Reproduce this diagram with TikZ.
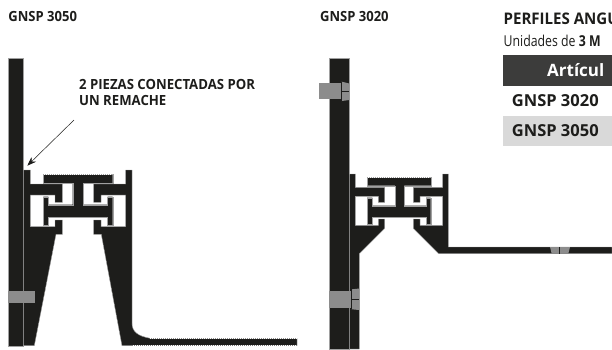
\documentclass[tikz,border=0pt]{standalone}
\usepackage{fontspec}
\usetikzlibrary{arrows.meta}
\setmainfont{Open Sans}
\definecolor{ink}{HTML}{1D1D1B}
\definecolor{rivetgray}{HTML}{8C8C8C}
\definecolor{edge}{HTML}{A0A0A0}
\definecolor{headdark}{HTML}{3C3C3B}
\definecolor{rowgray}{HTML}{D9D9D9}
\tikzset{
  prof/.style={fill=ink,draw=edge,line width=.4pt,line join=miter},
  rivet/.style={fill=rivetgray,draw=none},
  split/.style={draw=ink,line width=.6pt},
  teeth/.style={draw=white,line width=1pt,dash pattern=on .9pt off 1.1pt},
  title/.style={anchor=base west,inner sep=0pt,font=\bfseries\fontsize{14}{16}\selectfont,text=ink,xscale=.93},
  cell/.style={anchor=base west,inner sep=0pt,font=\bfseries\fontsize{16.5}{18}\selectfont,text=ink},
  note/.style={anchor=north west,inner sep=0pt,font=\bfseries\fontsize{14}{16}\selectfont,text=ink,align=left,xscale=.94},
}
\begin{document}
\begin{tikzpicture}[x=1pt,y=-1pt]
\clip (0,0) rectangle (612,349);
\fill[white] (0,0) rectangle (612,349);
% texts
\node[title] (t1) at (8.3,21.7) {GNSP 3050};
\node[title] (t2) at (320,21.7) {GNSP 3020};
\node[note] (n1) at (79,79) {2 PIEZAS CONECTADAS POR\\UN REMACHE};
\node[anchor=base west,inner sep=0pt,font=\bfseries\fontsize{16}{18}\selectfont,text=ink,xscale=.94] (h1) at (503.5,24.5) {PERFILES ANGU};
\node[anchor=base west,inner sep=0pt,font=\fontsize{15}{17}\selectfont,text=ink,xscale=.82] (h2) at (503.5,46.7) {Unidades de \textbf{3 M}};
% table
\fill[headdark] (503.3,55) rectangle (612,85.7);
\fill[rowgray] (503.3,115.7) rectangle (612,145.7);
\node[anchor=base west,inner sep=0pt,font=\bfseries\fontsize{17}{19}\selectfont,text=white] (c0) at (547,76.7) {Artícul};
\node[cell] (c1) at (511.7,106.5) {GNSP 3020};
\node[cell] (c2) at (511.7,136.5) {GNSP 3050};
% left assembly
\path[prof] (8.3,58) rectangle (23.5,345.7);
\path[prof] (23.5,170) -- (30.3,170) -- (30.3,184) -- (62.3,184) -- (62.3,202.3) -- (55,202.3) -- (55,195) -- (30.3,195) -- (30.3,226.7) -- (55,226.7) -- (55,220) -- (62.3,220) -- (62.3,234.3) -- (56,234.3) -- (34.3,345.7) -- (23.5,345.7) -- cycle;
\path[prof] (132,170) -- (125.7,170) -- (125.7,184) -- (93.7,184) -- (93.7,202.3) -- (101,202.3) -- (101,195) -- (125.7,195) -- (125.7,226.7) -- (101,226.7) -- (101,220) -- (93.7,220) -- (93.7,234.3) -- (101.3,234.3) -- (122,345.7) -- (297,345.7) -- (297,338.3) -- (150,338.3) .. controls (138,336) and (132,332) .. (132,323) -- cycle;
\path[prof] (43.3,174) -- (112.7,174) -- (112.7,183.3) -- (83.3,183.3) -- (83.3,204.7) -- (107.5,204.7) -- (107.5,196.7) -- (112.7,196.7) -- (112.7,225) -- (107.5,225) -- (107.5,217.3) -- (48.3,217.3) -- (48.3,225) -- (43.3,225) -- (43.3,196.7) -- (48.3,196.7) -- (48.3,204.7) -- (72.7,204.7) -- (72.7,183.3) -- (43.3,183.3) -- cycle;
\draw[teeth] (44,174.3) -- (112,174.3);
\draw[teeth] (150,338.4) -- (297,338.4);
\draw[teeth] (133,345.5) -- (297,345.5);
\fill[rivet] (8.3,291) rectangle (35,302.7);
% right assembly
\path[prof] (329.3,58) rectangle (349.3,349);
\path[prof] (349.3,349) -- (349.3,174) -- (355.3,174) -- (355.3,187.3) -- (384.7,187.3) -- (384.7,202.3) -- (378.3,202.3) -- (378.3,196.3) -- (355.3,196.3) -- (355.3,225.3) -- (378.3,225.3) -- (378.3,219) -- (384.7,219) -- (384.7,228.3) -- (359.3,253.7) -- (359.3,349) -- cycle;
\path[prof] (448.3,174) -- (442.7,174) -- (442.7,187.3) -- (413.3,187.3) -- (413.3,202.3) -- (420,202.3) -- (420,196.3) -- (442.7,196.3) -- (442.7,225.3) -- (420,225.3) -- (420,219) -- (413.3,219) -- (413.3,228.3) -- (438.7,253.7) -- (612,253.7) -- (612,247) -- (448.3,247) -- cycle;
\path[prof] (367,177) -- (431,177) -- (431,185.7) -- (404,185.7) -- (404,205.7) -- (426,205.7) -- (426,197.7) -- (430.7,197.7) -- (430.7,224.3) -- (426,224.3) -- (426,217.3) -- (372.3,217.3) -- (372.3,224.3) -- (367,224.3) -- (367,197.7) -- (372.3,197.7) -- (372.3,205.7) -- (395,205.7) -- (395,185.7) -- (367,185.7) -- cycle;
\draw[teeth] (368,177.3) -- (430,177.3);
% rivets of the right assembly
\fill[rivet] (319.3,83.3) rectangle (341,99.3);
\fill[rivet] (341.7,81.7) -- (349.3,83.5) -- (349.3,100) -- (341.7,101) -- cycle;
\draw[split] (341.4,81.7) -- (341.4,101);
\draw[split] (341.7,91.7) -- (349.3,91.7);
\fill[rivet] (329.3,291) rectangle (351,307.7);
\fill[rivet] (351.7,289.3) -- (359.3,288.5) -- (359.3,310) -- (351.7,309.3) -- cycle;
\draw[split] (351.4,289.3) -- (351.4,309.3);
\draw[split] (351.7,299.3) -- (359.3,299.3);
\fill[rivet] (550,247) -- (570,247) -- (568.3,253.7) -- (551.7,253.7) -- cycle;
\draw[split] (559.7,247) -- (559.7,253.7);
% arrow
\coordinate (from) at (74,120);
\coordinate (to) at (27.3,165.7);
\draw[ink,line width=.5pt,-{Stealth[length=9pt,width=6.5pt]}] (from) -- (to);
\end{tikzpicture}
\end{document}
